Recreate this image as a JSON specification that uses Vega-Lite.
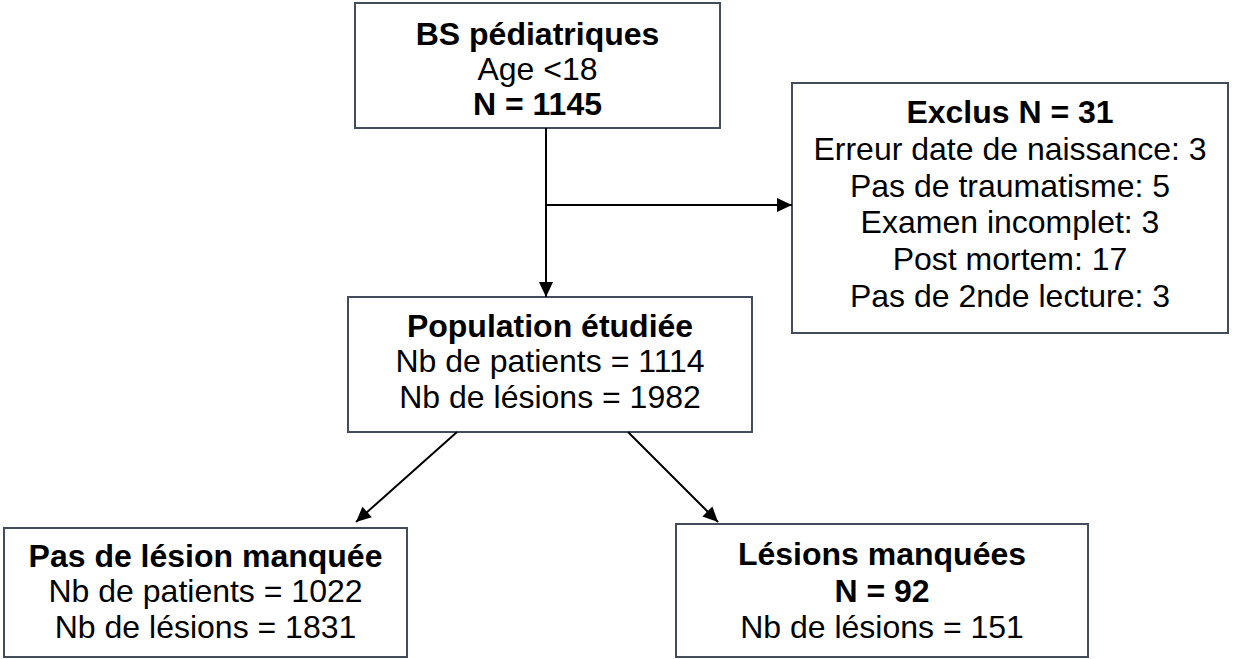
{
  "$schema": "https://vega.github.io/schema/vega-lite/v6.json",
  "width": 1236,
  "height": 659,
  "autosize": {"type": "fit", "contains": "padding"},
  "padding": 0,
  "background": "white",
  "config": {"view": {"stroke": null}},
  "datasets": {
    "boxes": [
      {"box": "BS pédiatriques", "x": 355, "x2": 720, "y": 3, "y2": 128},
      {"box": "Exclus", "x": 792, "x2": 1228, "y": 83, "y2": 333},
      {"box": "Population étudiée", "x": 348, "x2": 752, "y": 297, "y2": 432},
      {"box": "Pas de lésion manquée", "x": 4, "x2": 407, "y": 528, "y2": 657},
      {"box": "Lésions manquées", "x": 676, "x2": 1088, "y": 524, "y2": 657}
    ],
    "edges": [
      {"from": "BS pédiatriques", "to": "Population étudiée", "x": 546, "y": 128, "x2": 546, "y2": 297, "angle": 0},
      {"from": "BS pédiatriques", "to": "Exclus", "x": 546, "y": 205, "x2": 792, "y2": 205, "angle": 270},
      {"from": "Population étudiée", "to": "Pas de lésion manquée", "x": 457, "y": 432, "x2": 356, "y2": 522, "angle": 48},
      {"from": "Population étudiée", "to": "Lésions manquées", "x": 628, "y": 432, "x2": 718, "y2": 522, "angle": 315}
    ],
    "labels": [
      {"text": "BS pédiatriques", "x": 537.5, "y": 45, "bold": true},
      {"text": "Age <18", "x": 537.5, "y": 80, "bold": false},
      {"text": "N = 1145", "x": 537.5, "y": 115, "bold": true},
      {"text": "Exclus N = 31", "x": 1010, "y": 123, "bold": true},
      {"text": "Erreur date de naissance: 3", "x": 1010, "y": 160, "bold": false},
      {"text": "Pas de traumatisme: 5", "x": 1010, "y": 197, "bold": false},
      {"text": "Examen incomplet: 3", "x": 1010, "y": 233, "bold": false},
      {"text": "Post mortem: 17", "x": 1010, "y": 270, "bold": false},
      {"text": "Pas de 2nde lecture: 3", "x": 1010, "y": 307, "bold": false},
      {"text": "Population étudiée", "x": 550, "y": 337, "bold": true},
      {"text": "Nb de patients = 1114", "x": 550, "y": 372, "bold": false},
      {"text": "Nb de lésions = 1982", "x": 550, "y": 408, "bold": false},
      {"text": "Pas de lésion manquée", "x": 205.5, "y": 567, "bold": true},
      {"text": "Nb de patients = 1022", "x": 205.5, "y": 602, "bold": false},
      {"text": "Nb de lésions = 1831", "x": 205.5, "y": 638, "bold": false},
      {"text": "Lésions manquées", "x": 882, "y": 565, "bold": true},
      {"text": "N = 92", "x": 882, "y": 602, "bold": true},
      {"text": "Nb de lésions = 151", "x": 882, "y": 638, "bold": false}
    ]
  },
  "layer": [
    {
      "data": {"name": "boxes"},
      "mark": {"type": "rect", "fill": "white", "stroke": "#424c5c", "strokeWidth": 2},
      "encoding": {
        "x": {"field": "x", "type": "quantitative", "scale": {"domain": [0, 1236], "nice": false, "zero": false}, "axis": null},
        "x2": {"field": "x2"},
        "y": {"field": "y", "type": "quantitative", "scale": {"domain": [0, 659], "nice": false, "zero": false, "reverse": true}, "axis": null},
        "y2": {"field": "y2"}
      }
    },
    {
      "data": {"name": "edges"},
      "mark": {"type": "rule", "color": "black", "strokeWidth": 2},
      "encoding": {
        "x": {"field": "x", "type": "quantitative"},
        "x2": {"field": "x2"},
        "y": {"field": "y", "type": "quantitative"},
        "y2": {"field": "y2"}
      }
    },
    {
      "data": {"name": "edges"},
      "mark": {"type": "point", "shape": "M0,0L-0.47,-1L0.47,-1Z", "filled": true, "color": "black", "opacity": 1, "size": 900, "strokeWidth": 0},
      "encoding": {
        "x": {"field": "x2", "type": "quantitative"},
        "y": {"field": "y2", "type": "quantitative"},
        "angle": {"field": "angle", "type": "quantitative", "scale": null}
      }
    },
    {
      "data": {"name": "labels"},
      "transform": [{"filter": "datum.bold"}],
      "mark": {"type": "text", "font": "Liberation Sans", "fontSize": 32, "fontWeight": "bold", "align": "center", "baseline": "alphabetic", "color": "black"},
      "encoding": {
        "x": {"field": "x", "type": "quantitative"},
        "y": {"field": "y", "type": "quantitative"},
        "text": {"field": "text"}
      }
    },
    {
      "data": {"name": "labels"},
      "transform": [{"filter": "!datum.bold"}],
      "mark": {"type": "text", "font": "Liberation Sans", "fontSize": 32, "fontWeight": "normal", "align": "center", "baseline": "alphabetic", "color": "black"},
      "encoding": {
        "x": {"field": "x", "type": "quantitative"},
        "y": {"field": "y", "type": "quantitative"},
        "text": {"field": "text"}
      }
    }
  ]
}
